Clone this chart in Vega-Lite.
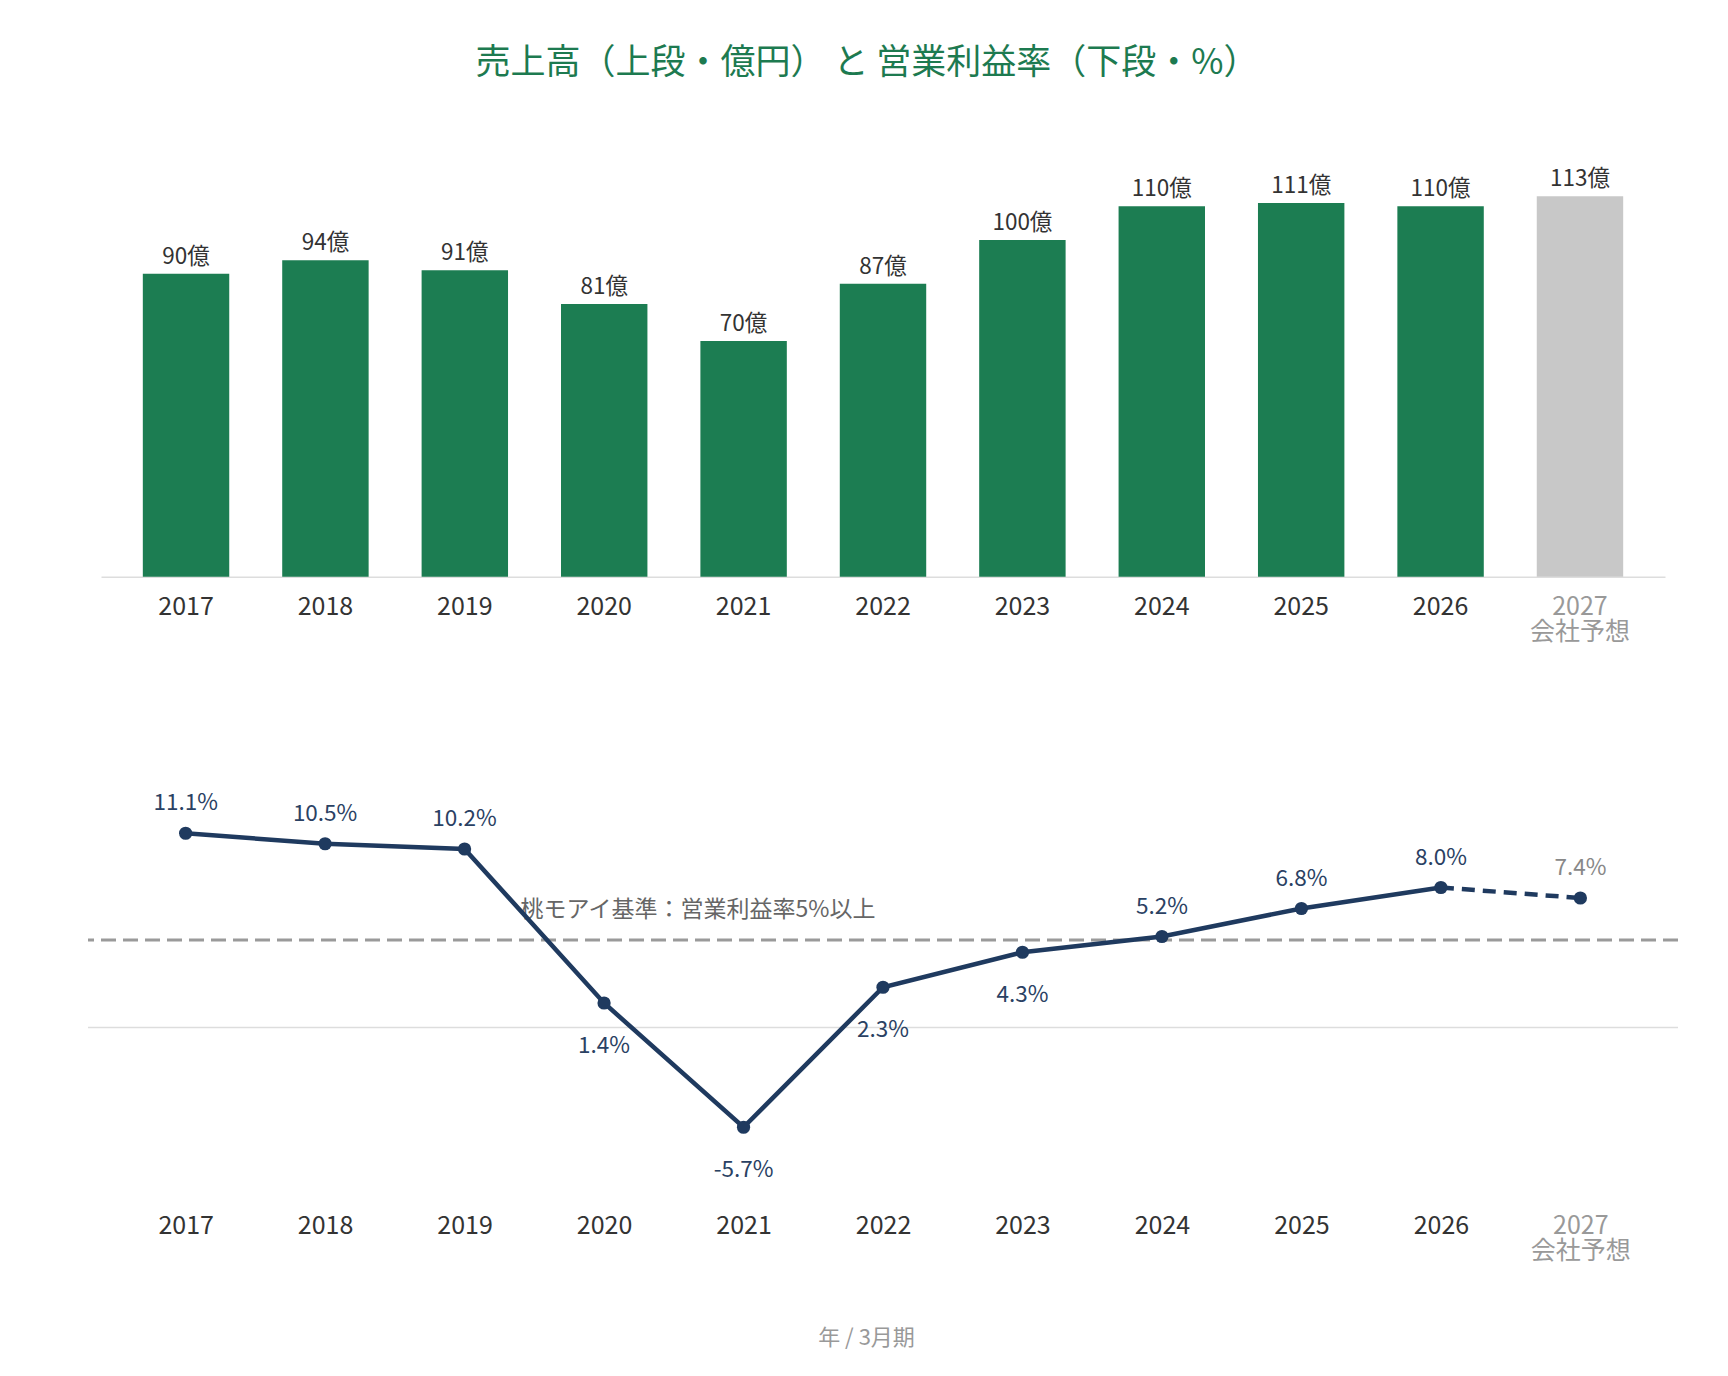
{
  "$schema": "https://vega.github.io/schema/vega-lite/v6.json",
  "background": "white",
  "padding": {"left": 86, "top": 46, "right": 52, "bottom": 10},
  "title": {
    "text": "売上高（上段・億円） と 営業利益率（下段・%）",
    "color": "#1d7a50",
    "fontSize": 35,
    "fontWeight": "normal",
    "font": "Noto Sans CJK JP",
    "anchor": "middle",
    "dx": -16,
    "offset": 58
  },
  "config": {
    "view": {"stroke": null},
    "font": "Noto Sans CJK JP",
    "text": {"font": "Noto Sans CJK JP"}
  },
  "datasets": {
    "sales": [
      {"year": "2017", "sales": 90, "kind": "実績"},
      {"year": "2018", "sales": 94, "kind": "実績"},
      {"year": "2019", "sales": 91, "kind": "実績"},
      {"year": "2020", "sales": 81, "kind": "実績"},
      {"year": "2021", "sales": 70, "kind": "実績"},
      {"year": "2022", "sales": 87, "kind": "実績"},
      {"year": "2023", "sales": 100, "kind": "実績"},
      {"year": "2024", "sales": 110, "kind": "実績"},
      {"year": "2025", "sales": 111, "kind": "実績"},
      {"year": "2026", "sales": 110, "kind": "実績"},
      {"year": "2027", "sales": 113, "kind": "会社予想"}
    ],
    "margin": [
      {"year": "2017", "margin": 11.1, "kind": "実績"},
      {"year": "2018", "margin": 10.5, "kind": "実績"},
      {"year": "2019", "margin": 10.2, "kind": "実績"},
      {"year": "2020", "margin": 1.4, "kind": "実績"},
      {"year": "2021", "margin": -5.7, "kind": "実績"},
      {"year": "2022", "margin": 2.3, "kind": "実績"},
      {"year": "2023", "margin": 4.3, "kind": "実績"},
      {"year": "2024", "margin": 5.2, "kind": "実績"},
      {"year": "2025", "margin": 6.8, "kind": "実績"},
      {"year": "2026", "margin": 8.0, "kind": "実績"},
      {"year": "2027", "margin": 7.4, "kind": "会社予想"}
    ]
  },
  "vconcat": [
    {
      "width": 1564,
      "height": 437.7,
      "data": {"name": "sales"},
      "transform": [{"calculate": "datum.sales + '億'", "as": "label"}],
      "encoding": {
        "x": {
          "field": "year",
          "type": "nominal",
          "sort": null,
          "title": null,
          "scale": {"paddingInner": 0.38, "paddingOuter": 0.3},
          "axis": {
            "labelAngle": 0,
            "labelAlign": "center",
            "labelBaseline": "top",
            "domain": true,
            "domainColor": "#dddddd",
            "domainWidth": 1.5,
            "ticks": false,
            "tickSize": 0,
            "labelPadding": 18,
            "labelFontSize": 25,
            "labelFont": "Noto Sans CJK JP",
            "labelLineHeight": 25,
            "labelExpr": "datum.value == '2027' ? ['2027', '会社予想'] : datum.value",
            "labelColor": {"condition": {"test": "datum.value == '2027'", "value": "#999999"}, "value": "#333333"}
          }
        },
        "y": {
          "field": "sales",
          "type": "quantitative",
          "scale": {"domain": [0, 130], "nice": false},
          "axis": null
        }
      },
      "layer": [
        {
          "mark": {"type": "bar"},
          "encoding": {
            "color": {
              "field": "kind",
              "type": "nominal",
              "scale": {"domain": ["実績", "会社予想"], "range": ["#1c7d52", "#c8c8c8"]},
              "legend": null
            }
          }
        },
        {
          "mark": {"type": "text", "baseline": "bottom", "dy": -5, "fontSize": 22.5, "color": "#333333"},
          "encoding": {"text": {"field": "label"}}
        }
      ]
    },
    {
      "width": 1590,
      "height": 385,
      "data": {"name": "margin"},
      "transform": [{"calculate": "(datum.margin < 0 ? '-' : '') + format(abs(datum.margin), '.1f') + '%'", "as": "label"}],
      "encoding": {
        "y": {"field": "margin", "type": "quantitative", "scale": {"domain": [-9, 13], "nice": false}, "axis": null}
      },
      "layer": [
        {
          "transform": [{"filter": "datum.year == '2017'"}],
          "mark": {"type": "rule", "color": "#dddddd", "strokeWidth": 1.5},
          "encoding": {"y": {"datum": 0, "type": "quantitative"}}
        },
        {
          "transform": [{"filter": "datum.year == '2017'"}],
          "mark": {"type": "rule", "color": "#9a9a9a", "strokeWidth": 3, "strokeDash": [15, 7]},
          "encoding": {"y": {"datum": 5, "type": "quantitative"}}
        },
        {
          "transform": [{"filter": "datum.year == '2019'"}],
          "mark": {"type": "text", "align": "left", "baseline": "middle", "dx": 56, "dy": -30, "fontSize": 23, "color": "#666666"},
          "encoding": {
            "x": {"field": "year", "type": "ordinal"},
            "y": {"datum": 5, "type": "quantitative"},
            "text": {"value": "桃モアイ基準：営業利益率5%以上"}
          }
        },
        {
          "transform": [{"filter": "datum.kind == '実績'"}],
          "mark": {"type": "line", "color": "#1f3a5f", "strokeWidth": 4.5},
          "encoding": {
            "x": {"field": "year", "type": "ordinal"}
          }
        },
        {
          "transform": [{"filter": {"field": "year", "oneOf": ["2026", "2027"]}}],
          "mark": {"type": "line", "color": "#1f3a5f", "strokeWidth": 4.5, "strokeDash": [13, 8]},
          "encoding": {
            "x": {"field": "year", "type": "ordinal"}
          }
        },
        {
          "mark": {"type": "circle", "color": "#1f3a5f", "opacity": 1, "size": 175},
          "encoding": {
            "x": {
              "field": "year",
              "type": "ordinal",
              "title": "年 / 3月期",
              "scale": {
                "type": "point",
                "padding": 0.7,
                "domain": ["2017", "2018", "2019", "2020", "2021", "2022", "2023", "2024", "2025", "2026", "2027"]
              },
              "axis": {
                "labelAngle": 0,
                "labelAlign": "center",
                "labelBaseline": "top",
                "domain": false,
                "ticks": false,
                "tickSize": 0,
                "grid": false,
                "labelPadding": 28,
                "labelFontSize": 25,
                "labelFont": "Noto Sans CJK JP",
                "labelLineHeight": 25,
                "labelExpr": "datum.value == '2027' ? ['2027', '会社予想'] : datum.value",
                "labelColor": {"condition": {"test": "datum.value == '2027'", "value": "#999999"}, "value": "#333333"},
                "titleFont": "Noto Sans CJK JP",
                "titleFontSize": 22,
                "titleFontWeight": "normal",
                "titleColor": "#999999",
                "titlePadding": 64,
                "titleX": 778
              }
            }
          }
        },
        {
          "transform": [{"filter": {"not": {"field": "year", "oneOf": ["2020", "2021", "2022", "2023"]}}}],
          "mark": {"type": "text", "baseline": "middle", "dy": -30, "fontSize": 22.5},
          "encoding": {
            "x": {"field": "year", "type": "ordinal"},
            "text": {"field": "label"},
            "color": {"condition": {"test": "datum.kind == '会社予想'", "value": "#888888"}, "value": "#2a4163"}
          }
        },
        {
          "transform": [{"filter": {"field": "year", "oneOf": ["2020", "2021", "2022", "2023"]}}],
          "mark": {"type": "text", "baseline": "middle", "dy": 43, "fontSize": 22.5, "color": "#2a4163"},
          "encoding": {
            "x": {"field": "year", "type": "ordinal"},
            "text": {"field": "label"}
          }
        }
      ]
    }
  ],
  "spacing": 223,
  "bounds": "flush",
  "center": true
}
